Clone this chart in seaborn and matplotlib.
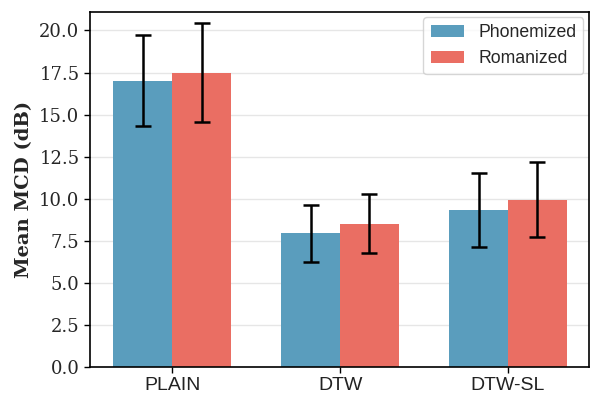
import matplotlib
matplotlib.use("Agg")
import matplotlib.pyplot as plt
import seaborn as sns
import pandas as pd
import numpy as np

methods = ["PLAIN", "DTW", "DTW-SL"]
phon_mean = [17.0, 7.95, 9.35]
phon_err = [2.7, 1.7, 2.2]
rom_mean = [17.5, 8.5, 9.95]
rom_err = [2.95, 1.75, 2.25]
yticks = [0.0, 2.5, 5.0, 7.5, 10.0, 12.5, 15.0, 17.5, 20.0]

veri = pd.DataFrame({
    "Method": methods * 2,
    "MCD": phon_mean + rom_mean,
    "Input": ["Phonemized"] * 3 + ["Romanized"] * 3,
})
hatalar = phon_err + rom_err

sns.set_style("white")
fig, ax = plt.subplots(figsize=(5.91, 3.98), dpi=100)
renkler = {"Phonemized": "#5a9dbd", "Romanized": "#ea6e63"}
sns.barplot(data=veri, x="Method", y="MCD", hue="Input", palette=renkler,
            width=0.7, errorbar=None, saturation=1, ax=ax,
            linewidth=0, zorder=2)

# hata çubukları
for bar, e in zip(ax.patches[:6], hatalar):
    cx = bar.get_x() + bar.get_width() / 2
    ax.errorbar(cx, bar.get_height(), yerr=e, fmt="none", ecolor="black",
                elinewidth=1.8, capsize=6, capthick=1.8, zorder=3)

ax.set_ylim(0, 21.1)
ax.set_xlim(-0.49, 2.48)
ax.yaxis.grid(True, color="#e6e6e6", linewidth=1, zorder=0)
ax.set_axisbelow(True)
for s in ax.spines.values():
    s.set_color("black")
    s.set_linewidth(1.2)

ax.set_xlabel("")
ax.set_ylabel("Mean MCD (dB)", fontfamily="DejaVu Serif", fontweight="bold", fontsize=14)
ax.tick_params(axis="both", which="both", left=True, bottom=True, length=4, width=1, color="black")
ax.set_yticks(yticks)
ax.set_yticklabels([f"{v:.1f}" for v in yticks], fontfamily="DejaVu Serif", fontsize=13)
ax.set_xticks(range(3))
ax.set_xticklabels(methods, fontfamily="Liberation Sans", fontsize=14, color="#222222")

leg = ax.legend(loc="upper right", prop={"family": "Liberation Sans", "size": 12.7}, frameon=True,
                fancybox=True, edgecolor="#cccccc", handlelength=1.9, borderaxespad=0.3)
leg.get_frame().set_linewidth(1)

fig.subplots_adjust(left=0.152, right=0.996, top=0.970, bottom=0.078)
fig.savefig("out.png", dpi=100)
